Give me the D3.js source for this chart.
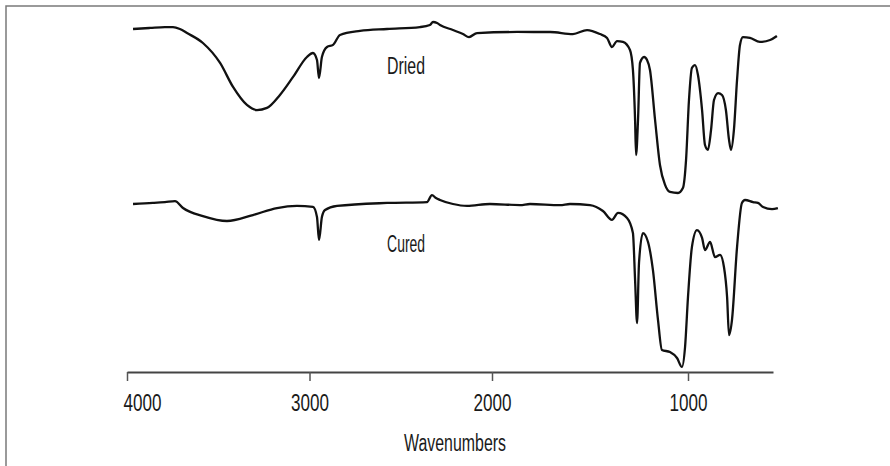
<!DOCTYPE html>
<html>
<head>
<meta charset="utf-8">
<script src="https://cdn.jsdelivr.net/npm/d3@7"></script>
<style>
body { margin: 0; background: #fff; }
text { font-family: "Liberation Sans", Arial, sans-serif; fill: #1a1a1a; }
</style>
</head>
<body>
<div id="chart"></div>
<script>
// wavenumbers (cm-1) and transmittance
const driedWn = [3967, 3874, 3792, 3748, 3710, 3671, 3584, 3490, 3419, 3343, 3288, 3233, 3162, 3090, 3014, 2981,
    2959, 2948, 2932, 2904, 2871, 2833, 2723, 2575, 2395, 2340, 2323, 2301, 2285, 2214, 2159, 2126, 2082,
    1872, 1704, 1587, 1515, 1449, 1413, 1388, 1362, 1332, 1296, 1281, 1270, 1265, 1255, 1245, 1224, 1209,
    1194, 1168, 1143, 1117, 1092, 1051, 1026, 1010, 995, 980, 964, 949, 928, 913, 898, 882, 867, 846, 826,
    806, 790, 780, 765, 749, 734, 719, 683, 632, 580, 545];
const driedT = [96.0, 96.6, 97.1, 97.1, 96.0, 93.7, 88.0, 76.6, 62.9, 52.6, 49.7, 50.9, 58.3, 68.6, 80.0, 82.3,
    78.3, 68.0, 80.0, 85.7, 86.9, 92.6, 94.9, 96.0, 97.1, 98.3, 100.0, 99.4, 98.3, 95.4, 93.1, 91.4, 93.7,
    94.3, 94.3, 93.1, 95.4, 93.1, 90.9, 85.7, 89.1, 88.6, 84.0, 72.6, 44.0, 24.0, 44.0, 76.6, 80.0, 78.3,
    72.6, 44.0, 18.3, 6.9, 2.9, 2.3, 5.1, 21.1, 55.4, 73.7, 75.4, 69.7, 49.7, 29.7, 26.9, 38.3, 55.4, 59.4, 58.3,
    49.7, 32.6, 26.9, 38.3, 66.9, 86.9, 91.4, 90.9, 88.6, 89.7, 92.0];

const curedWn = [3967, 3858, 3792, 3737, 3693, 3584, 3452, 3310, 3178, 3069, 2981, 2959, 2948, 2932, 2915, 2849,
    2575, 2356, 2329, 2307, 2285, 2214, 2137, 2011, 1857, 1806, 1653, 1602, 1500, 1434, 1388, 1357, 1311,
    1281, 1270, 1260, 1250, 1230, 1204, 1179, 1153, 1133, 1092, 1056, 1031, 1015, 1000, 980, 954, 928, 913,
    887, 862, 836, 816, 800, 790, 775, 749, 724, 708, 667, 642, 616, 570, 540];
const curedT = [96.0, 96.6, 97.1, 97.7, 93.7, 89.1, 86.3, 89.7, 93.7, 94.9, 94.3, 88.6, 75.4, 88.6, 92.6, 94.9,
    96.6, 97.1, 101.1, 99.4, 98.3, 96.0, 94.9, 96.0, 95.4, 96.0, 95.4, 96.0, 95.4, 92.0, 86.9, 90.9, 88.0,
    79.4, 52.6, 28.0, 62.3, 79.4, 74.3, 58.3, 29.7, 12.6, 11.4, 8.0, 2.9, 14.3, 42.9, 71.4, 81.1, 76.6, 69.7,
    74.3, 65.7, 66.9, 60.0, 42.9, 21.1, 29.7, 71.4, 96.6, 98.3, 97.1, 96.6, 94.3, 93.1, 93.7];

const tickValues = [4000, 3000, 2000, 1000];
const seriesNames = ["Dried", "Cured"];
const seriesOffset = [100, 0];   // dried spectrum stacked above cured

const width = 890, height = 466;

const svg = d3.select("#chart").append("svg")
    .attr("width", width)
    .attr("height", height);

// frame
svg.append("path")
    .attr("d", "M6,466V6H890")
    .attr("fill", "none")
    .attr("stroke", "#7a7a7a")
    .attr("stroke-width", 1.5);

// the original scale is stretched a little below 2000
const xScale = d3.scaleLinear().domain([4000, 2000, 1000, 565]).range([127, 492, 688, 773]);
const yScale = d3.scaleLinear().domain([0, 200]).range([372, 22]);

const xAxis = d3.axisBottom(xScale)
    .tickValues(tickValues)
    .tickFormat(d3.format("d"))
    .tickSize(9)
    .tickSizeOuter(0)
    .tickPadding(14);

const gx = svg.append("g")
    .attr("transform", `translate(0,${yScale(0)})`)
    .call(xAxis);
gx.select(".domain").attr("stroke", "#444").attr("stroke-width", 2.2);
gx.selectAll(".tick line").attr("stroke", "#555").attr("stroke-width", 1.5);
// condensed look of the original lettering
gx.selectAll(".tick text")
    .attr("font-size", 23)
    .attr("font-family", null)
    .attr("textLength", 38)
    .attr("lengthAdjust", "spacingAndGlyphs");
gx.selectAll(".tick text").filter(d => d === 4000)
    .attr("text-anchor", "start")
    .attr("x", -4);

svg.append("text")
    .attr("x", 455)
    .attr("y", 451)
    .attr("text-anchor", "middle")
    .attr("font-size", 23)
    .attr("textLength", 102)
    .attr("lengthAdjust", "spacingAndGlyphs")
    .text("Wavenumbers");

const line = d3.line()
    .x(d => xScale(d[0]))
    .y(d => yScale(d[1]))
    .curve(d3.curveMonotoneX);

const spectra = [
    d3.zip(driedWn, driedT.map(v => v + seriesOffset[0])),
    d3.zip(curedWn, curedT.map(v => v + seriesOffset[1]))
];

svg.append("g")
    .selectAll("path")
    .data(spectra)
    .join("path")
    .attr("d", line)
    .attr("fill", "none")
    .attr("stroke", "#111")
    .attr("stroke-width", 2.3)
    .attr("stroke-linejoin", "round");

// series labels
const labelPos = [[2575, 170.5], [2575, 68.5]];
svg.selectAll(".series-label")
    .data(seriesNames)
    .join("text")
    .attr("class", "series-label")
    .attr("x", (d, i) => xScale(labelPos[i][0]))
    .attr("y", (d, i) => yScale(labelPos[i][1]))
    .attr("font-size", 23)
    .attr("textLength", 38)
    .attr("lengthAdjust", "spacingAndGlyphs")
    .text(d => d);
</script>
</body>
</html>
